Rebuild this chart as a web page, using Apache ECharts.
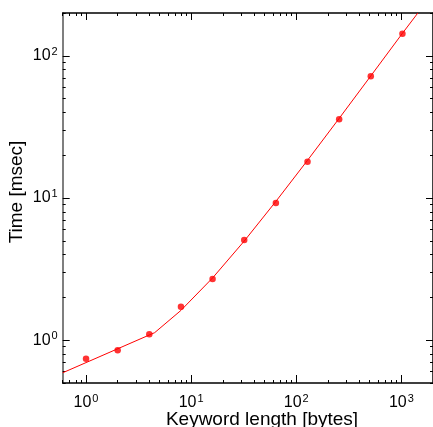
<!DOCTYPE html>
<html><head><meta charset="utf-8">
<script src="https://cdn.jsdelivr.net/npm/echarts@6/dist/echarts.min.js"></script>
<style>html,body{margin:0;padding:0;background:#fff}#c{width:433px;height:427px}</style>
</head><body><div id="c"></div>
<script>
// measured points
const keywordLength = [1, 2, 4, 8, 16, 32, 64, 128, 256, 512, 1024];
const timeMsec = [0.74, 0.85, 1.10, 1.72, 2.69, 5.07, 9.23, 18.0, 35.8, 71.9, 143];
// fitted curve
const fitLength = [0.6, 4.5, 8, 16, 32, 64, 128, 256, 512, 1024, 1435];
const fitTime = [0.59, 1.13, 1.62, 2.74, 4.98, 9.46, 18.4, 36.3, 72.2, 144, 200];
// tick values
const xMajor = [1, 10, 100, 1000];
const xMinor = [0.6, 0.7, 0.8, 0.9, 2, 3, 4, 5, 6, 7, 8, 9, 20, 30, 40, 50, 60, 70, 80, 90, 200, 300, 400, 500, 600, 700, 800, 900, 2000];
const yMajor = [1, 10, 100];
const yMinor = [0.5, 0.6, 0.7, 0.8, 0.9, 2, 3, 4, 5, 6, 7, 8, 9, 20, 30, 40, 50, 60, 70, 80, 90, 200];

const FONT = 'Liberation Sans, Arial, sans-serif';
const rich = {
  b: {fontSize: 16, fontFamily: FONT, color: '#000'},
  s: {fontSize: 11, fontFamily: FONT, color: '#000', verticalAlign: 'top', padding: [0, 0, 8, 1]}
};
const fmt = v => '{b|10}{s|' + Math.round(Math.log10(v)) + '}';

function xAx(pos, vals, len, labels, line) {
  return {
    type: 'log', logBase: 10, min: 0.6, max: 2000, position: pos,
    axisLine: {show: line, lineStyle: {color: '#000', width: 1.5}},
    axisTick: {show: true, inside: true, length: len, customValues: vals, lineStyle: {color: '#000', width: 1}},
    axisLabel: labels ? {show: true, customValues: xMajor, formatter: fmt, rich: rich, margin: 10} : {show: false},
    splitLine: {show: false}, minorTick: {show: false}
  };
}
function yAx(pos, vals, len, labels, line, lineColor) {
  return {
    type: 'log', logBase: 10, min: 0.5, max: 200, position: pos,
    axisLine: {show: line, lineStyle: {color: lineColor || '#000', width: 1.5}},
    axisTick: {show: true, inside: true, length: len, customValues: vals, lineStyle: {color: '#000', width: 1}},
    axisLabel: labels ? {show: true, customValues: yMajor, formatter: fmt, rich: rich, margin: 5} : {show: false},
    splitLine: {show: false}, minorTick: {show: false}
  };
}

const chart = echarts.init(document.getElementById('c'), null, {renderer: 'canvas'});
chart.setOption({
  animation: false,
  backgroundColor: '#fff',
  grid: {left: 62.7, top: 13, width: 371.2, height: 370, containLabel: false},
  xAxis: [
    xAx('bottom', xMajor, 8, true, true),
    xAx('bottom', xMinor, 3, false, false),
    xAx('top', xMajor, 7, false, true),
    xAx('top', xMinor, 3, false, false)
  ],
  yAxis: [
    yAx('left', yMajor, 7, true, true, '#555'),
    yAx('left', yMinor, 3, false, false),
    yAx('right', yMajor, 7, false, true),
    yAx('right', yMinor, 3, false, false)
  ],
  graphic: [
    {type: 'text', x: 262, y: 410, style: {text: 'Keyword length [bytes]', font: '19px ' + FONT, fill: '#000', textAlign: 'center', textVerticalAlign: 'top'}},
    {type: 'text', x: 17, y: 192, rotation: Math.PI / 2, style: {text: 'Time [msec]', font: '19px ' + FONT, fill: '#000', textAlign: 'center', textVerticalAlign: 'middle'}}
  ],
  series: [
    {type: 'line', xAxisIndex: 0, yAxisIndex: 0, data: fitLength.map((x, i) => [x, fitTime[i]]),
     showSymbol: false, lineStyle: {color: '#ff0000', width: 1}, clip: true, z: 2},
    {type: 'scatter', xAxisIndex: 0, yAxisIndex: 0, data: keywordLength.map((x, i) => [x, timeMsec[i]]),
     symbol: 'circle', symbolSize: 6.5, itemStyle: {color: '#ff0000'}, z: 3}
  ]
});
</script></body></html>
